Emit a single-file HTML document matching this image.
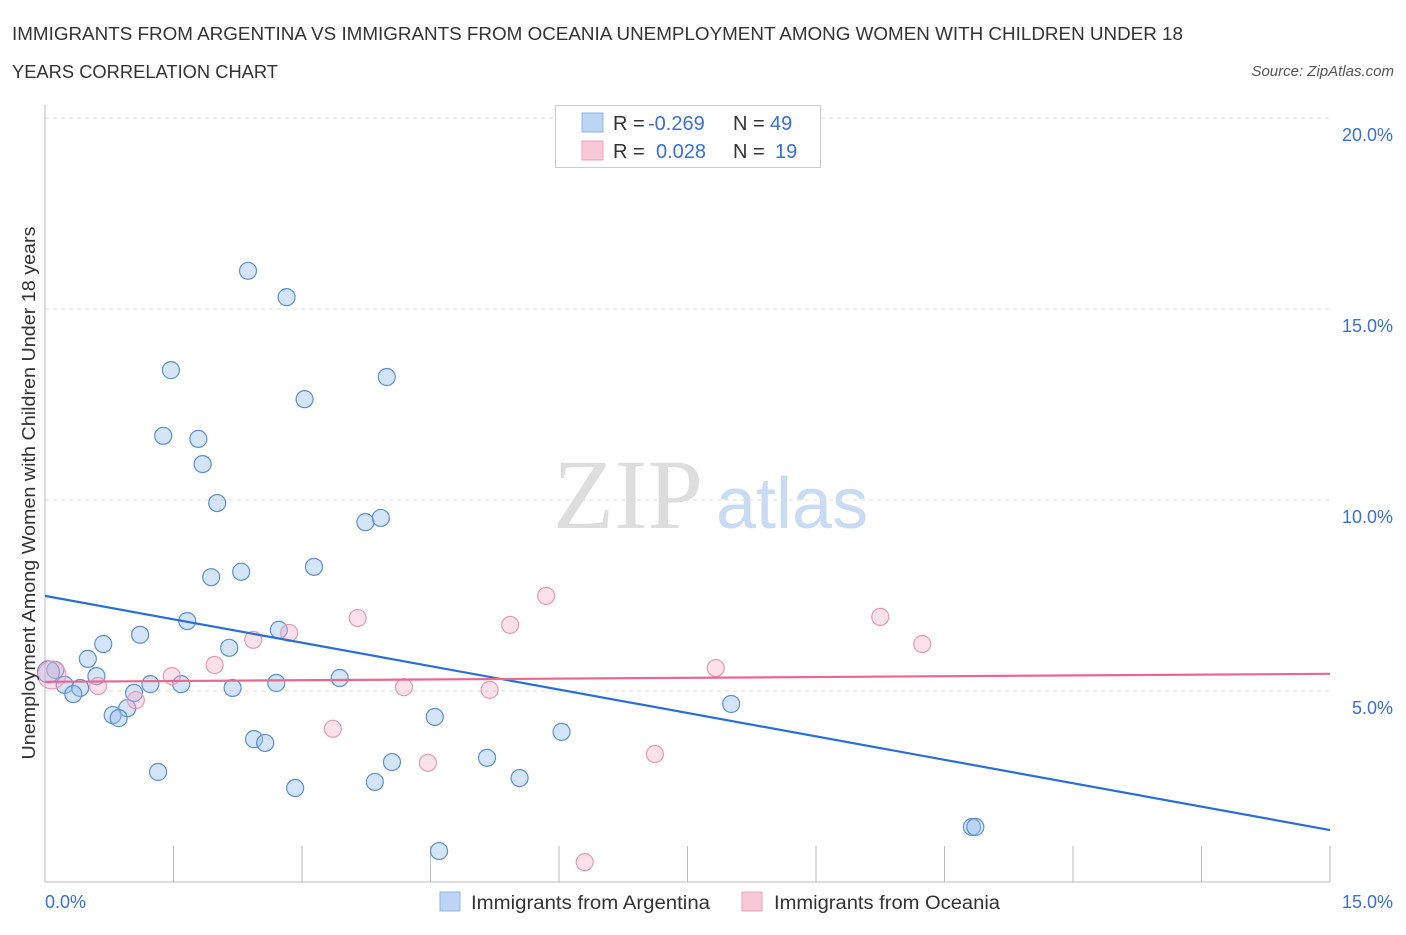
<!DOCTYPE html>
<html><head><meta charset="utf-8"><style>
body{margin:0;background:#fff;font-family:"Liberation Sans",sans-serif;}
</style></head><body>
<svg width="1406" height="930" xmlns="http://www.w3.org/2000/svg" style="font-family:'Liberation Sans',sans-serif">
<text x="12" y="40" font-size="18" fill="#333" textLength="1171" lengthAdjust="spacingAndGlyphs">IMMIGRANTS FROM ARGENTINA VS IMMIGRANTS FROM OCEANIA UNEMPLOYMENT AMONG WOMEN WITH CHILDREN UNDER 18</text>
<text x="12" y="78" font-size="18" fill="#333" textLength="266" lengthAdjust="spacingAndGlyphs">YEARS CORRELATION CHART</text>
<text x="1394" y="76" font-size="15" fill="#555" text-anchor="end" font-style="italic">Source: ZipAtlas.com</text>
<g>
<text x="553" y="528" font-size="100" fill="#ddd" font-family="Liberation Serif,serif">ZIP</text>
<text x="716" y="528" font-size="72" fill="#c9dbf2">atlas</text>
</g>
<g id="grid"></g>
<g id="axes"></g>
<g id="marks"></g>
<text x="35" y="493" font-size="18" fill="#333" text-anchor="middle" textLength="533" lengthAdjust="spacingAndGlyphs" transform="rotate(-90 35 493)">Unemployment Among Women with Children Under 18 years</text>
<g>
<rect x="555.5" y="105.5" width="265" height="62" fill="#fff" stroke="#ccc"/>
<rect x="582" y="113" width="21" height="19" fill="#bcd5f5" stroke="#8fb4e8"/>
<rect x="582" y="141" width="21" height="19" fill="#f9c8d7" stroke="#eea0b8"/>
<text x="613" y="130" font-size="20" fill="#333">R = <tspan fill="#3a6fd8" x="648">-0.269</tspan></text>
<text x="733" y="130" font-size="20" fill="#333">N = <tspan fill="#3a6fd8" x="770">49</tspan></text>
<text x="613" y="158" font-size="20" fill="#333">R = <tspan fill="#3a6fd8" x="656">0.028</tspan></text>
<text x="733" y="158" font-size="20" fill="#333">N = <tspan fill="#3a6fd8" x="775">19</tspan></text>
</g>
<g>
<rect x="440" y="892" width="20" height="19" fill="#bcd5f5" stroke="#8fb4e8"/>
<text x="471" y="909" font-size="19" fill="#333" textLength="239" lengthAdjust="spacingAndGlyphs">Immigrants from Argentina</text>
<rect x="742" y="892" width="20" height="19" fill="#f9c8d7" stroke="#eea0b8"/>
<text x="774" y="909" font-size="19" fill="#333" textLength="226" lengthAdjust="spacingAndGlyphs">Immigrants from Oceania</text>
</g>
<text x="45" y="908" font-size="18" fill="#3a6fd8">0.0%</text>
<text x="1393" y="908" font-size="18" fill="#3a6fd8" text-anchor="end">15.0%</text>
</svg>
<script>
const yTicks=[5,10,15,20];
const yTickLabels=["5.0%","10.0%","15.0%","20.0%"];
const blueX=[2.37,2.82,1.47,3.99,3.03,1.38,1.79,1.84,2.01,3.74,3.92,3.14,1.94,2.29,1.66,1.11,2.73,0.68,2.15,0.50,0.12,3.44,0.60,0.23,1.23,1.59,2.70,2.19,0.41,0.33,1.04,0.96,0.79,0.86,2.44,2.57,1.32,4.55,6.03,8.01,5.16,4.05,3.85,5.54,2.92,4.60,10.82,10.86,0.04];
const blueY=[16.0,15.31,13.4,13.22,12.64,11.68,11.6,10.94,9.92,9.42,9.53,8.25,7.98,8.12,6.83,6.47,6.60,6.23,6.13,5.84,5.55,5.34,5.39,5.16,5.18,5.18,5.21,5.08,5.08,4.92,4.95,4.55,4.37,4.29,3.74,3.64,2.88,4.32,3.93,4.66,3.25,3.14,2.62,2.72,2.46,0.81,1.44,1.44,5.50];
const pinkX=[0.08,5.85,9.75,3.65,10.24,5.43,2.85,2.43,1.98,1.48,7.83,0.62,4.19,5.19,1.06,3.36,7.12,4.47,6.30];
const pinkY=[5.42,7.49,6.94,6.91,6.23,6.73,6.52,6.34,5.68,5.39,5.60,5.13,5.10,5.03,4.76,4.01,3.35,3.12,0.52];
const blueTrend=[7.49,1.36];
const pinkTrend=[5.24,5.45];
const NS="http://www.w3.org/2000/svg";
const sx=v=>45+v/15*1285;
const sy=v=>882-v*38.2;
function mk(tag,attrs,parent){const e=document.createElementNS(NS,tag);for(const k in attrs)e.setAttribute(k,attrs[k]);parent.appendChild(e);return e;}
const grid=document.getElementById('grid'),axes=document.getElementById('axes'),marks=document.getElementById('marks');
yTicks.forEach((t,i)=>{
 const l=mk('line',{x1:45,x2:1330,y1:sy(t),y2:sy(t),stroke:'#ddd','stroke-dasharray':'4,4'},grid);
 
 
 const tx=mk('text',{x:1393,y:sy(t)+23,'font-size':18,fill:'#3a6fd8','text-anchor':'end'},axes);
 tx.textContent=yTickLabels[i];
 
 
});
const ax=mk('line',{x1:45,x2:45,y1:105,y2:882,stroke:'#bbb'},axes);


const bx=mk('line',{x1:45,x2:1330,y1:882,y2:882,stroke:'#bbb'},axes);


for(let i=1;i<=10;i++){
 const t=mk('line',{x1:sx(i*1.5),x2:sx(i*1.5),y1:846,y2:882,stroke:'#bbb'},axes);
 
 
}
blueX.forEach((x,i)=>{
 const c=mk('circle',{cx:sx(x),cy:sy(blueY[i]),r:(i===48?11:8.5),fill:'rgba(150,190,240,0.4)',stroke:'#5b8fd8','stroke-width':1.2},marks);
 
 
});
pinkX.forEach((x,i)=>{
 const c=mk('circle',{cx:sx(x),cy:sy(pinkY[i]),r:(i===0?14:8.5),fill:'rgba(245,170,195,0.35)',stroke:'#e89ab4','stroke-width':1.2},marks);
 
 
});
const bl=mk('line',{x1:sx(0),x2:sx(15),y1:sy(blueTrend[0]),y2:sy(blueTrend[1]),stroke:'#2a6fd6','stroke-width':2.2},marks);


const pl=mk('line',{x1:sx(0),x2:sx(15),y1:sy(pinkTrend[0]),y2:sy(pinkTrend[1]),stroke:'#e8688f','stroke-width':2.2},marks);


</script>
</body></html>
